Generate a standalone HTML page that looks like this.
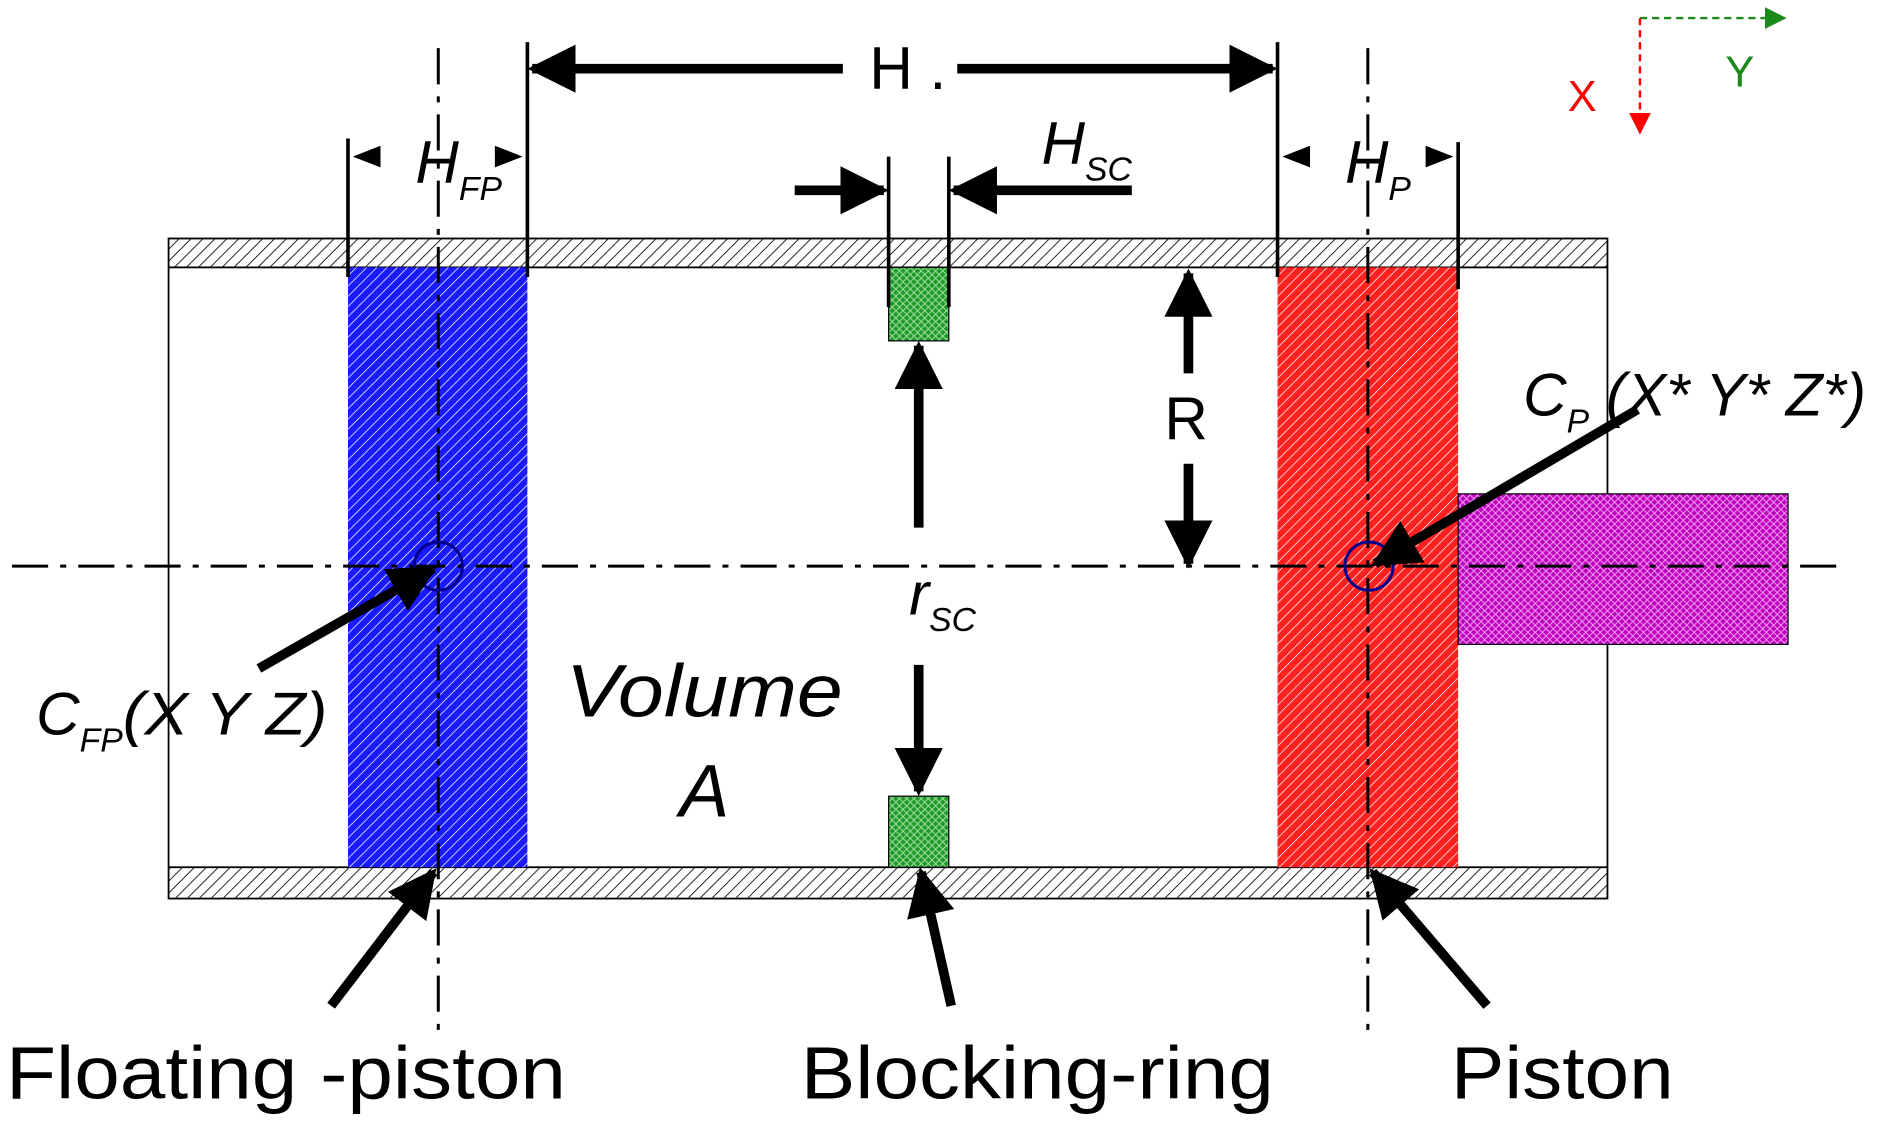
<!DOCTYPE html>
<html><head><meta charset="utf-8"><style>
html,body{margin:0;padding:0;background:#fff;}
svg{display:block;}
text{font-family:"Liberation Sans",Arial,sans-serif;}
</style></head>
<body>
<svg width="1888" height="1125" viewBox="0 0 1568 934" preserveAspectRatio="none" xmlns="http://www.w3.org/2000/svg">
<defs>
<pattern id="hw" width="7" height="7" patternUnits="userSpaceOnUse" patternTransform="rotate(45)"><rect width="7" height="7" fill="#fff"/><line x1="0" y1="0" x2="0" y2="7" stroke="#000" stroke-width="1.4"/></pattern>
<pattern id="hb" width="6" height="6" patternUnits="userSpaceOnUse" patternTransform="rotate(45)"><rect width="6" height="6" fill="#1a1aff"/><line x1="0" y1="0" x2="0" y2="6" stroke="#fff" stroke-width="1.2"/></pattern>
<pattern id="hr" width="6" height="6" patternUnits="userSpaceOnUse" patternTransform="rotate(45)"><rect width="6" height="6" fill="#ff2020"/><line x1="0" y1="0" x2="0" y2="6" stroke="#fff" stroke-width="1.2"/></pattern>
<pattern id="hm" width="6" height="6" patternUnits="userSpaceOnUse"><rect width="6" height="6" fill="#c000c0"/><path d="M0 0L6 6M6 0L0 6" stroke="#f0a0f0" stroke-width="0.8"/></pattern>
<pattern id="hg" width="6" height="6" patternUnits="userSpaceOnUse"><rect width="6" height="6" fill="#1f9a2a"/><path d="M0 0L6 6M6 0L0 6" stroke="#a0e0a0" stroke-width="0.8"/></pattern>
<marker id="ah" viewBox="0 0 10 10" refX="9" refY="5" markerWidth="5" markerHeight="5" orient="auto-start-reverse"><path d="M0 0L10 5L0 10z" fill="#000"/></marker>
<marker id="ag" viewBox="0 0 10 10" refX="9" refY="5" markerWidth="9" markerHeight="9" orient="auto"><path d="M0 0L10 5L0 10z" fill="#1a8a1a"/></marker>
<marker id="ar" viewBox="0 0 10 10" refX="9" refY="5" markerWidth="9" markerHeight="9" orient="auto"><path d="M0 0L10 5L0 10z" fill="#ff0000"/></marker>
</defs>

<rect x="140" y="198" width="1195" height="24" fill="url(#hw)" stroke="#000" stroke-width="1.5"/>
<rect x="140" y="720" width="1195" height="26" fill="url(#hw)" stroke="#000" stroke-width="1.5"/>
<line x1="140" y1="222" x2="140" y2="720" stroke="#000" stroke-width="1.5"/>
<line x1="1335" y1="222" x2="1335" y2="720" stroke="#000" stroke-width="1.5"/>

<rect x="289" y="222" width="149" height="498" fill="url(#hb)"/>
<rect x="1061" y="222" width="150" height="498" fill="url(#hr)"/>
<rect x="1211" y="410" width="274" height="125" fill="url(#hm)" stroke="#000" stroke-width="1"/>
<rect x="738" y="222" width="50" height="61" fill="url(#hg)" stroke="#000" stroke-width="1"/>
<rect x="738" y="661" width="50" height="59" fill="url(#hg)" stroke="#000" stroke-width="1"/>

<g stroke="#000" stroke-width="2.5" stroke-dasharray="30,10,5,10" fill="none">
<line x1="10" y1="470" x2="1535" y2="470"/>
<line x1="364" y1="40" x2="364" y2="865"/>
<line x1="1136" y1="40" x2="1136" y2="865"/>
</g>
<circle cx="364" cy="470" r="20" fill="none" stroke="#00008b" stroke-width="2.5"/>
<circle cx="1137" cy="470" r="20" fill="none" stroke="#00008b" stroke-width="2.5"/>

<g stroke="#000" stroke-width="3" fill="none">
<line x1="438" y1="35" x2="438" y2="230"/>
<line x1="1061" y1="35" x2="1061" y2="230"/>
<line x1="289" y1="115" x2="289" y2="230"/>
<line x1="1211" y1="118" x2="1211" y2="240"/>
<line x1="738" y1="130" x2="738" y2="255"/>
<line x1="788" y1="130" x2="788" y2="255"/>
</g>
<g stroke="#000" stroke-width="8" fill="none" marker-end="url(#ah)">
<line x1="700" y1="57" x2="442" y2="57"/>
<line x1="795" y1="57" x2="1057" y2="57"/>
<line x1="660" y1="158" x2="734" y2="158"/>
<line x1="940" y1="158" x2="792" y2="158"/>
<line x1="763" y1="438" x2="763" y2="287"/>
<line x1="763" y1="552" x2="763" y2="657"/>
<line x1="987" y1="310" x2="987" y2="227"/>
<line x1="987" y1="385" x2="987" y2="468"/>
<line x1="215" y1="555" x2="360" y2="472"/>
<line x1="1360" y1="340" x2="1142" y2="468"/>
<line x1="275" y1="835" x2="360" y2="724"/>
<line x1="790" y1="835" x2="765" y2="724"/>
<line x1="1235" y1="835" x2="1140" y2="724"/>
</g>
<g fill="#000">
<path d="M293 130L316 121L316 139z"/><path d="M434 130L411 121L411 139z"/>
<path d="M1065 130L1088 121L1088 139z"/><path d="M1207 130L1184 121L1184 139z"/>
</g>

<g font-size="50" fill="#000">
<text x="722" y="74">H .</text>
<text x="345" y="152" font-style="italic">H<tspan font-size="28" dy="14">FP</tspan></text>
<text x="865" y="136" font-style="italic">H<tspan font-size="28" dy="14">SC</tspan></text>
<text x="1117" y="152" font-style="italic">H<tspan font-size="28" dy="14">P</tspan></text>
<text x="967" y="365">R</text>
<text x="755" y="510" font-style="italic">r<tspan font-size="28" dy="14">SC</tspan></text>
<text x="470" y="595" font-size="62" font-style="italic" textLength="230" lengthAdjust="spacingAndGlyphs">Volume</text>
<text x="585" y="678" font-size="62" font-style="italic" text-anchor="middle">A</text>
<text x="30" y="610" font-style="italic">C<tspan font-size="28" dy="14">FP</tspan><tspan dy="-14" textLength="170" lengthAdjust="spacingAndGlyphs">(X Y Z)</tspan></text>
<text x="1265" y="345" font-style="italic">C<tspan font-size="28" dy="14">P</tspan><tspan dy="-14" textLength="230" lengthAdjust="spacingAndGlyphs"> (X* Y* Z*)</tspan></text>
</g>
<g font-size="62" fill="#000">
<text x="5" y="912" textLength="465" lengthAdjust="spacingAndGlyphs">Floating -piston</text>
<text x="665" y="912" textLength="393" lengthAdjust="spacingAndGlyphs">Blocking-ring</text>
<text x="1205" y="912" textLength="185" lengthAdjust="spacingAndGlyphs">Piston</text>
</g>

<line x1="1362" y1="15" x2="1482" y2="15" stroke="#1a8a1a" stroke-width="2" stroke-dasharray="6,4" marker-end="url(#ag)"/>
<line x1="1362" y1="15" x2="1362" y2="110" stroke="#ff0000" stroke-width="2" stroke-dasharray="6,4" marker-end="url(#ar)"/>
<text x="1433" y="72" font-size="36" fill="#1a8a1a">Y</text>
<text x="1302" y="92" font-size="36" fill="#ff0000">X</text>
</svg>
</body></html>
